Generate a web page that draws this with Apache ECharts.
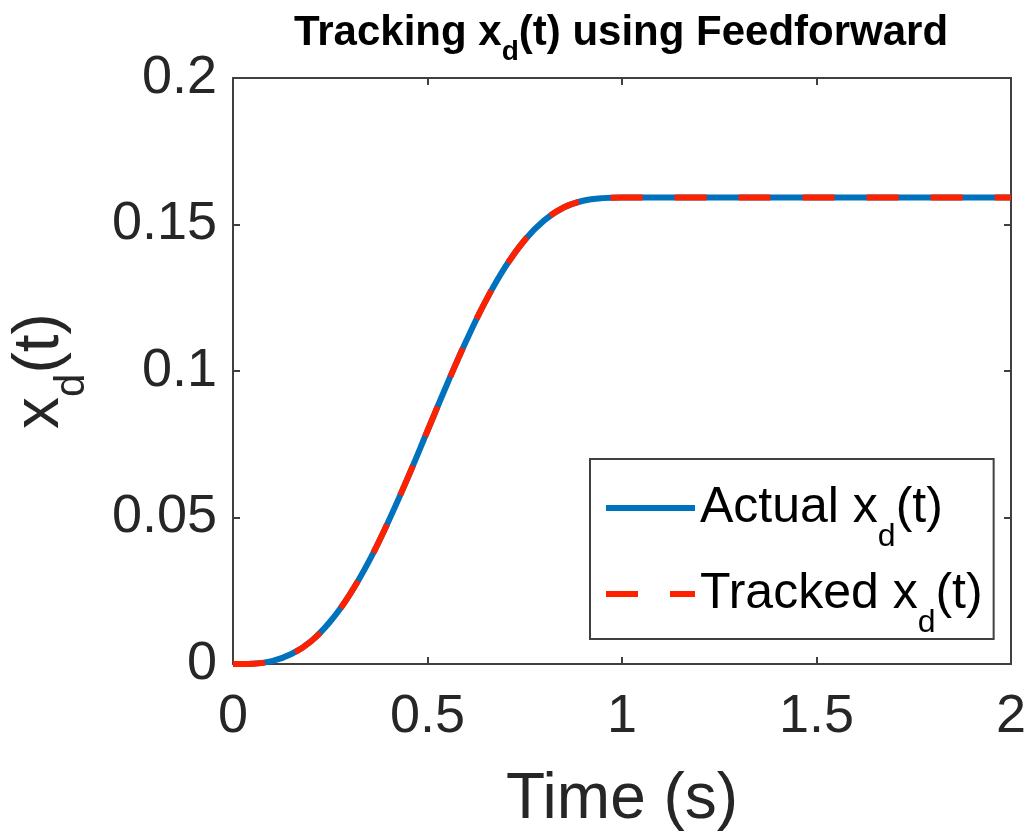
<!DOCTYPE html>
<html>
<head>
<meta charset="utf-8">
<script src="https://cdn.jsdelivr.net/npm/echarts@6/dist/echarts.min.js"></script>
<style>
  html, body { margin: 0; padding: 0; background: #ffffff; }
  #main { width: 1029px; height: 831px; }
</style>
</head>
<body>
<div id="main"></div>
<script>
// data
const timeS = [0, 0.05, 0.1, 0.15, 0.2, 0.25, 0.3, 0.35, 0.4, 0.45, 0.5,
    0.55, 0.6, 0.65, 0.7, 0.75, 0.8, 0.85, 0.9, 0.95, 1.0, 1.5, 2.0];
const actualXd = [0, 0.0001, 0.001, 0.0034, 0.0077, 0.0145, 0.0237, 0.0352, 0.0488, 0.0638, 0.0796,
    0.0954, 0.1104, 0.1240, 0.1355, 0.1447, 0.1514, 0.1558, 0.1581, 0.1590, 0.1592, 0.1592, 0.1592];
const trackedXd = [0, 0.0001, 0.001, 0.0034, 0.0077, 0.0145, 0.0237, 0.0352, 0.0488, 0.0638, 0.0796,
    0.0954, 0.1104, 0.1240, 0.1355, 0.1447, 0.1514, 0.1558, 0.1581, 0.1590, 0.1592, 0.1592, 0.1592];
const xTicks = [0, 2, 0.5];      // min, max, interval
const yTicks = [0, 0.2, 0.05];
const seriesNames = ['Actual', 'Tracked'];

const FONT = "'Liberation Sans', Arial, Helvetica, sans-serif";
const AX = '#404040';
const TXT = '#262626';

function pairs(xs, ys) {
    return xs.map((x, i) => [x, ys[i]]);
}

const chart = echarts.init(document.getElementById('main'), null, { renderer: 'canvas' });

const axisCommon = {
    axisLine: { show: true, onZero: false, lineStyle: { color: AX, width: 2 } },
    axisTick: { show: true, inside: true, length: 7, lineStyle: { color: AX, width: 2 } },
    splitLine: { show: false }
};

const option = {
    backgroundColor: '#ffffff',
    animation: false,
    textStyle: { fontFamily: FONT },
    title: {
        text: '{a|Tracking x}{s|d}{a|(t) using Feedforward}',
        left: 621,
        top: 0,
        padding: 0,
        textAlign: 'center',
        textStyle: {
            rich: {
                a: { fontSize: 42, fontWeight: 'bold', color: '#000000', fontFamily: FONT },
                s: { fontSize: 28, fontWeight: 'bold', color: '#000000', fontFamily: FONT, padding: [38, 0, 0, 0] }
            }
        }
    },
    grid: { left: 233, right: 18, top: 78, bottom: 167, outerBoundsMode: 'none', containLabel: false },
    legend: {
        orient: 'vertical',
        left: 590,
        top: 459,
        padding: [24, 11, 0, 13],
        itemGap: 16,
        itemWidth: 89,
        itemHeight: 20,
        backgroundColor: '#ffffff',
        borderColor: AX,
        borderWidth: 2,
        borderRadius: 0,
        lineStyle: { width: 6 },
        itemStyle: { opacity: 0 },
        data: seriesNames,
        formatter: function (name) {
            return '{a|' + name + ' x}{s|d}{a|(t)}';
        },
        textStyle: {
            padding: [0, 0, 0, 0],
            rich: {
                a: { fontSize: 50, color: '#000000', fontFamily: FONT },
                s: { fontSize: 32, color: '#000000', fontFamily: FONT, padding: [58, 0, 0, 0] }
            }
        }
    },
    xAxis: [
        Object.assign({
            type: 'value', position: 'bottom',
            min: xTicks[0], max: xTicks[1], interval: xTicks[2],
            name: 'Time (s)', nameLocation: 'middle', nameGap: 104,
            nameTextStyle: { fontSize: 64, color: TXT, fontFamily: FONT },
            axisLabel: { fontSize: 54, color: TXT, margin: 26, fontFamily: FONT }
        }, axisCommon),
        Object.assign({
            type: 'value', position: 'top',
            min: xTicks[0], max: xTicks[1], interval: xTicks[2],
            axisLabel: { show: false }
        }, axisCommon)
    ],
    yAxis: [
        Object.assign({
            type: 'value', position: 'left',
            min: yTicks[0], max: yTicks[1], interval: yTicks[2],
            name: '{a|x}{s|d}{a|(t)}', nameLocation: 'middle', nameGap: 140, nameRotate: 90,
            nameTextStyle: {
                rich: {
                    a: { fontSize: 64, color: TXT, fontFamily: FONT },
                    s: { fontSize: 42, color: TXT, fontFamily: FONT, padding: [64, 0, 0, 0] }
                }
            },
            axisLabel: { fontSize: 54, color: TXT, margin: 16, fontFamily: FONT }
        }, axisCommon),
        Object.assign({
            type: 'value', position: 'right',
            min: yTicks[0], max: yTicks[1], interval: yTicks[2],
            axisLabel: { show: false }
        }, axisCommon)
    ],
    series: [
        {
            name: seriesNames[0],
            type: 'line',
            xAxisIndex: 0, yAxisIndex: 0,
            data: pairs(timeS, actualXd),
            symbol: 'none',
            smooth: 0.4,
            color: '#0072BD',
            lineStyle: { width: 6, color: '#0072BD' }
        },
        {
            name: seriesNames[1],
            type: 'line',
            xAxisIndex: 0, yAxisIndex: 0,
            data: pairs(timeS, trackedXd),
            symbol: 'none',
            smooth: 0.4,
            color: '#FF2000',
            lineStyle: { width: 6, color: '#FF2000', type: [32, 32] }
        }
    ]
};

chart.setOption(option);
</script>
</body>
</html>
